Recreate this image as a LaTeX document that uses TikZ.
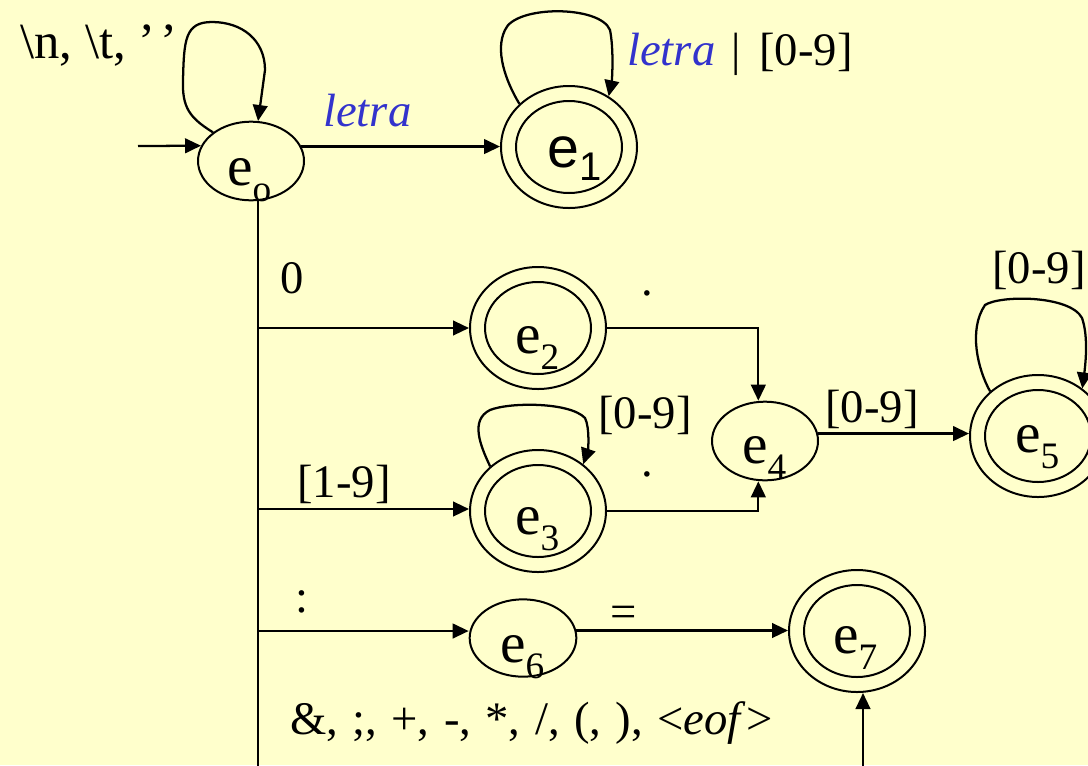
\documentclass[tikz,border=0pt]{standalone}
\usepackage{fontspec}
\setmainfont{Liberation Serif}
\newfontfamily\sansf{Liberation Sans}
\usetikzlibrary{shapes.geometric,arrows.meta}
\definecolor{bgyel}{HTML}{FFFFCC}
\definecolor{letblue}{HTML}{3333CC}
\newcommand\stsub[1]{\raisebox{-12pt}{\fontsize{28}{30}\selectfont #1}}
\begin{document}
\begin{tikzpicture}[x=0.75pt,y=-0.75pt,
  state/.style={ellipse, draw, line width=1.5pt, inner sep=0pt, minimum width=79.5pt, minimum height=59pt},
  accout/.style={ellipse, draw, line width=1.5pt, inner sep=0pt, minimum width=102pt, minimum height=91.5pt},
  accin/.style={ellipse, draw, line width=1.5pt, inner sep=0pt, minimum width=79.5pt, minimum height=69pt},
  lab/.style={anchor=base west, inner sep=0pt, font=\fontsize{35}{40}\selectfont},
  stname/.style={anchor=base west, inner sep=0pt, font=\fontsize{43}{50}\selectfont},
  arr/.style={line width=1.7pt, -{Triangle[length=12pt,width=11pt]}}]
\useasboundingbox (0,0) rectangle (1088,765);
\fill[bgyel] (0,0) rectangle (1088,765);
\clip (0,0) rectangle (1088,765);

% states
\node[state] (e0) at (251,161) {};
\node[accout] (e1) at (569,147) {};
\node[accin] (e1i) at (569,147) {};
\node[accout] (e2) at (538,328) {};
\node[accin] (e2i) at (538,328) {};
\node[accout] (e3) at (538,511) {};
\node[accin] (e3i) at (538,511) {};
\node[state] (e4) at (765,441) {};
\node[accout] (e5) at (1038,436) {};
\node[accin] (e5i) at (1038,436) {};
\node[state, minimum width=80pt, minimum height=58pt] (e6) at (523,638) {};
\node[accout] (e7) at (857,631) {};
\node[accin] (e7i) at (857,631) {};

% state names
\node[stname] (t0) at (227,185) {e\stsub{o}};
\node[stname, font=\fontsize{43}{50}\sansf] (t1) at (547,167) {e\raisebox{-10pt}{\fontsize{30}{32}\sansf 1}};
\node[stname] (t2) at (515,353) {e\stsub{2}};
\node[stname] (t3) at (515,534) {e\stsub{3}};
\node[stname] (t4) at (742,463) {e\stsub{4}};
\node[stname] (t5) at (1015,452) {e\stsub{5}};
\node[stname] (t6) at (500,662) {e\stsub{6}};
\node[stname] (t7) at (833,653) {e\stsub{7}};

% labels
\node[lab, font=\fontsize{38}{42}\selectfont] (l0) at (20,58) {\textbackslash n, \textbackslash t, ’\hspace{4pt}’};
\node[lab, text=letblue] (l01) at (323,126) {\itshape letra};
\node[lab] (l11) at (627,65) {\textcolor{letblue}{\itshape letra}\hspace{12pt}|\hspace{14pt}[0-9]};
\node[lab] (l02) at (280,293) {0};
\node[lab] (l24) at (641,295) {.};
\node[lab] (l33) at (598,428) {[0-9]};
\node[lab] (l34) at (641,476) {.};
\node[lab] (l03) at (297,497) {[1-9]};
\node[lab] (l45) at (825,422) {[0-9]};
\node[lab] (l55) at (992,283) {[0-9]};
\node[lab] (l06) at (295,612) {:};
\node[lab] (l67) at (610,627) {=};
\node[lab] (l07) at (290,734) {\spaceskip=10.8pt\&, ;, +, -, *, /, (, ), <\textit{eof}>};

% coordinates
\coordinate (s0) at (138,146);
\coordinate (b2) at (258,328);
\coordinate (b3) at (258,509);
\coordinate (b6) at (258,631);
\coordinate (cb) at (258,800);
\coordinate (cc) at (863,800);

% connectors
\draw[arr] (s0) -- (e0.163);
\draw[arr] (e0.16) -- (e0.16 -| e1.west);
\draw[arr] (e0.south -| b2) -- (cb) -- (cc) -- (cc |- e7.south);
\draw[arr] (b2) -- (b2 -| e2.west);
\draw[arr] (b3) -- (b3 -| e3.west);
\draw[arr] (b6) -- (b6 -| e6.west);
\draw[arr] (e2.east) -| ([xshift=-5pt]e4.north);
\draw[arr] (e3.east) -| ([xshift=-5pt]e4.south);
\draw[arr] (e4.8) -- (e4.8 -| e5.west);
\draw[arr] (e6.8) -- (e6.8 -| e7.west);

% loops
\draw[arr] (e0.143) .. controls (190,118) and (182,108) .. (183,80)
  .. controls (184,40) and (185,22) .. (212,22)
  .. controls (242,22) and (265,40) .. (265,70) -- (e0.80);
\draw[arr] (e1.139) .. controls (505,80) and (495,50) .. (505,30)
  .. controls (515,5) and (600,5) .. (610,30)
  .. controls (614,50) and (612,80) .. (e1.52);
\draw[arr] (e3.137) .. controls (480,445) and (470,420) .. (490,410)
  .. controls (510,402) and (570,402) .. (585,418)
  .. controls (590,428) and (588,450) .. (e3.46);
\draw[arr] (e5.137) .. controls (978,370) and (968,330) .. (985,305)
  .. controls (1000,295) and (1070,295) .. (1082,318)
  .. controls (1088,335) and (1086,360) .. (e5.47);
\end{tikzpicture}
\end{document}
